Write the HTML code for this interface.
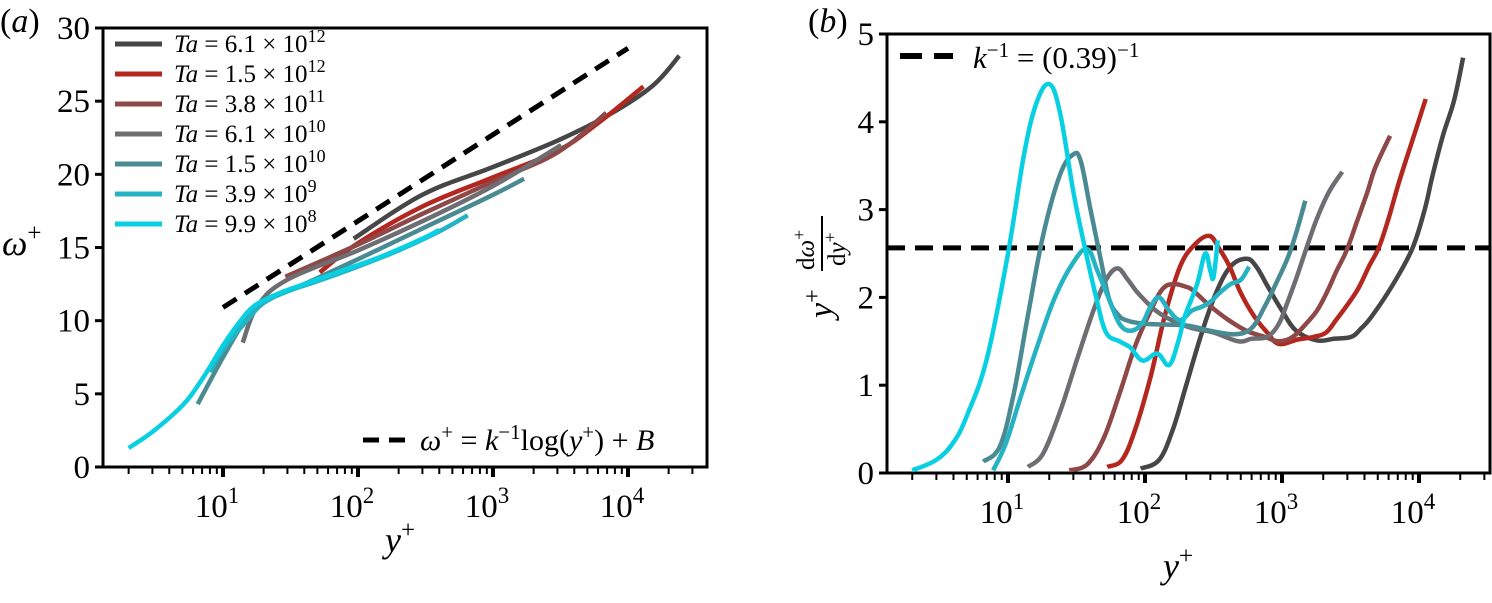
<!DOCTYPE html>
<html><head><meta charset="utf-8"><style>
html,body{margin:0;padding:0;background:#fff;}
svg{display:block;}
svg text{font-family:"Liberation Serif","Times New Roman",serif;}
</style></head><body>
<svg id="fig" width="1492" height="603" viewBox="0 0 1492 603" xmlns="http://www.w3.org/2000/svg" font-family="Liberation Serif, serif">
<g id="pa"></g>
<g id="pb"></g>
</svg>
<script>
// ---- data ----
const seriesNames = ["6.1 × 10", "1.5 × 10", "3.8 × 10", "6.1 × 10", "1.5 × 10", "3.9 × 10", "9.9 × 10"];
const seriesExps = ["12", "12", "11", "10", "10", "9", "8"];
const seriesColors = ["#464646", "#b4271f", "#8e4848", "#6e6d72", "#4a8b93", "#25b2c2", "#08d0e2"];
const aX0 = [93, 300, 1000, 3000, 7000, 15000, 24000];
const aY0 = [15.6, 18.6, 20.5, 22.3, 24, 26, 28.1];
const aX1 = [52, 100, 300, 1000, 3000, 6000, 13000];
const aY1 = [13.3, 15.3, 17.8, 19.8, 21.6, 23.5, 26];
const aX2 = [29, 100, 300, 1000, 3000, 6900];
const aY2 = [13, 15.2, 17.3, 19.5, 21.5, 24.2];
const aX3 = [14, 18, 30, 100, 300, 1000, 3200];
const aY3 = [8.5, 11, 12.8, 14.8, 16.8, 19.2, 22];
const aX4 = [6.5, 10, 15, 20, 40, 100, 300, 1000, 1700];
const aY4 = [4.3, 7.5, 10.2, 11.3, 12.5, 14.2, 16.3, 18.6, 19.7];
const aX5 = [8, 10, 15, 20, 30, 50, 100, 200, 400, 650];
const aY5 = [6.5, 8, 10, 11.2, 12, 12.7, 13.7, 14.8, 16.1, 17.2];
const aX6 = [2, 3, 5, 7, 10, 13, 17, 25, 40, 70, 150, 300, 400];
const aY6 = [1.3, 2.4, 4.2, 6, 8.3, 9.8, 11, 11.8, 12.5, 13.3, 14.4, 15.6, 16.2];
const logLawK = 0.39, logLawB = 5.0, logLawXs = [10, 10000];

const bX0 = [93,127,160,200,260,330,420,550,650,790,1000,1270,1800,2400,3200,3800,4500,6300,8900,11000,12600,15000,18000,21000];
const bY0 = [0.05,0.15,0.5,1.0,1.6,2.05,2.35,2.44,2.35,2.12,1.85,1.62,1.51,1.53,1.55,1.65,1.78,2.12,2.55,3.0,3.4,3.85,4.24,4.73];
const bX1 = [53,68,85,110,140,180,230,295,350,415,500,630,780,950,1300,1700,2100,2500,2950,3600,4300,5100,6000,7200,9000,11200];
const bY1 = [0.07,0.15,0.5,1.1,1.8,2.35,2.6,2.7,2.55,2.35,2.05,1.78,1.6,1.47,1.52,1.55,1.6,1.75,1.9,2.1,2.35,2.57,2.9,3.33,3.8,4.26];
const bX2 = [28,38,50,65,85,110,135,163,200,224,300,400,550,750,950,1200,1500,1800,2100,2500,2950,3500,4200,4800,6150];
const bY2 = [0.03,0.1,0.4,0.9,1.45,1.85,2.1,2.15,2.12,2.08,1.9,1.75,1.62,1.55,1.5,1.55,1.7,1.85,2.04,2.3,2.53,2.85,3.2,3.48,3.84];
const bX3 = [14,18,24,32,42,52,63,75,90,120,157,220,316,480,600,780,950,1100,1260,1500,1800,2200,2750];
const bY3 = [0.07,0.22,0.7,1.3,1.85,2.2,2.33,2.2,2.04,1.85,1.74,1.65,1.6,1.5,1.53,1.55,1.7,1.95,2.2,2.55,2.9,3.2,3.43];
const bX4 = [6.6,8.7,11,14,18,24,30,34,40,48,55,64,73,100,200,300,450,600,750,900,1100,1260,1480];
const bY4 = [0.13,0.3,0.9,1.8,2.7,3.4,3.63,3.55,3.0,2.4,1.97,1.8,1.74,1.7,1.68,1.62,1.58,1.65,1.9,2.15,2.45,2.72,3.1];
const bX5 = [7.8,9.6,12,16,22,30,38,45,55,65,78,95,110,127,150,180,220,257,300,350,420,500,575];
const bY5 = [0.03,0.33,0.8,1.4,2.0,2.4,2.55,2.3,1.97,1.7,1.62,1.7,1.9,2.0,1.85,1.74,1.85,1.89,1.95,2.05,2.15,2.2,2.35];
const bX6 = [2,3,4,5,7,10,13,16,20,24,30,36,44,52,65,78,96,123,150,175,195,240,275,300,316,340];
const bY6 = [0.03,0.15,0.35,0.65,1.3,2.5,3.6,4.2,4.43,4.1,3.2,2.6,2.0,1.6,1.5,1.43,1.28,1.36,1.23,1.5,1.78,2.15,2.5,2.3,2.23,2.65];
const refLevel = 1 / 0.39;

const aYTicks = [0, 5, 10, 15, 20, 25, 30];
const bYTicks = [0, 1, 2, 3, 4, 5];
const xDecades = [1, 2, 3, 4];

// ---- layout ----
const NS = "http://www.w3.org/2000/svg";
const FONT = '"Liberation Serif", "Times New Roman", serif';
const A = {l:103, r:707, t:28, b:467, ymax:30, x10:223, dec:135, xmin:1.5, xmax:40000};
const B = {l:887, r:1490, t:34, b:473, ymax:5, x10:1008, dec:137, xmin:1.5, xmax:40000};
function sx(P, v){ return P.x10 + (Math.log10(v) - 1) * P.dec; }
function sy(P, v){ return P.b - v / P.ymax * (P.b - P.t); }
function mk(tag, attrs, parent){
  const e = document.createElementNS(NS, tag);
  for (const k in attrs) e.setAttribute(k, attrs[k]);
  if (tag === "text") e.setAttribute("font-family", FONT);
  parent.appendChild(e); return e;
}
function pathFrom(P, xs, ys){
  const pts = xs.map((x,i)=>[sx(P,x), sy(P,ys[i])]);
  let d = "M"+pts[0][0].toFixed(1)+","+pts[0][1].toFixed(1);
  const t = 0.18;
  for (let i=0;i<pts.length-1;i++){
    const p0 = pts[Math.max(0,i-1)], p1 = pts[i], p2 = pts[i+1], p3 = pts[Math.min(pts.length-1,i+2)];
    const c1x = p1[0] + (p2[0]-p0[0])*t, c1y = p1[1] + (p2[1]-p0[1])*t;
    const c2x = p2[0] - (p3[0]-p1[0])*t, c2y = p2[1] - (p3[1]-p1[1])*t;
    d += "C"+c1x.toFixed(1)+","+c1y.toFixed(1)+" "+c2x.toFixed(1)+","+c2y.toFixed(1)+" "+p2[0].toFixed(1)+","+p2[1].toFixed(1);
  }
  return d;
}

function drawFrame(g, P, ticks, name){
  const frame = mk("rect", {x:P.l, y:P.t, width:P.r-P.l, height:P.b-P.t, fill:"none", stroke:"#000", "stroke-width":3}, g);
  
  
  ticks.forEach(t=>{
    const y = sy(P,t);
    const tk = mk("line", {x1:P.l-8, x2:P.l, y1:y, y2:y, stroke:"#000", "stroke-width":3}, g);
    
    
    const lb = mk("text", {x:P.l-13, y:y+11, "text-anchor":"end", "font-size":33}, g);
    lb.textContent = t;
    
    
  });
  for (let d=0; d<5; d++){
    for (let m=1; m<10; m++){
      const v = Math.pow(10,d)*m;
      if (v < P.xmin) continue;
      const x = sx(P,v);
      if (x > P.r) continue;
      const major = m===1;
      const tk = mk("line", {x1:x, x2:x, y1:P.b, y2:P.b+(major?10:7), stroke:"#000", "stroke-width":major?4:2}, g);
      
      
    }
  }
  xDecades.forEach(d=>{
    const x = sx(P, Math.pow(10,d));
    const lb = mk("text", {x:x-6, y:P.b+50, "text-anchor":"middle", "font-size":33}, g);
    lb.innerHTML = '10<tspan dy="-14" font-size="23">'+d+'</tspan>';
    
    
  });
}

const ga = document.getElementById("pa");
const gb = document.getElementById("pb");
drawFrame(ga, A, aYTicks, "panel-a");
drawFrame(gb, B, bYTicks, "panel-b");

// panel a series
const aXs = [aX0,aX1,aX2,aX3,aX4,aX5,aX6];
const aYs = [aY0,aY1,aY2,aY3,aY4,aY5,aY6];
const ll = mk("path", {d:"M"+sx(A,logLawXs[0])+","+sy(A,logLawB+Math.log(logLawXs[0])/logLawK)+"L"+sx(A,logLawXs[1])+","+sy(A,logLawB+Math.log(logLawXs[1])/logLawK), stroke:"#000", "stroke-width":5, "stroke-dasharray":"16,10", fill:"none"}, ga);


for (let i=0;i<7;i++){
  const p = mk("path", {d:pathFrom(A,aXs[i],aYs[i]), stroke:seriesColors[i], "stroke-width":4.5, fill:"none", "stroke-linejoin":"round"}, ga);
  
  
}
// legend a
for (let i=0;i<7;i++){
  const y = 44 + i*30;
  const ln = mk("line", {x1:115, x2:162, y1:y, y2:y, stroke:seriesColors[i], "stroke-width":5}, ga);
  
  
  const t = mk("text", {x:174, y:y+8, "font-size":25}, ga);
  t.innerHTML = '<tspan font-style="italic">Ta</tspan> = '+seriesNames[i]+'<tspan dy="-10" font-size="18">'+seriesExps[i]+'</tspan>';
  
  
}
const lld = mk("line", {x1:363, x2:410, y1:440, y2:440, stroke:"#000", "stroke-width":5, "stroke-dasharray":"16,10"}, ga);


const llt = mk("text", {x:420, y:450, "font-size":30}, ga);
llt.innerHTML = '<tspan font-style="italic">ω</tspan><tspan dy="-11" font-size="21">+</tspan><tspan dy="11"> = </tspan><tspan font-style="italic">k</tspan><tspan dy="-11" font-size="21">−1</tspan><tspan dy="11">log(</tspan><tspan font-style="italic">y</tspan><tspan dy="-11" font-size="21">+</tspan><tspan dy="11">) + </tspan><tspan font-style="italic">B</tspan>';



// panel b series
const bXs = [bX0,bX1,bX2,bX3,bX4,bX5,bX6];
const bYs = [bY0,bY1,bY2,bY3,bY4,bY5,bY6];
const rl = mk("line", {x1:B.l, x2:B.r, y1:sy(B,refLevel), y2:sy(B,refLevel), stroke:"#000", "stroke-width":5, "stroke-dasharray":"18,10"}, gb);


for (let i=0;i<7;i++){
  const p = mk("path", {d:pathFrom(B,bXs[i],bYs[i]), stroke:seriesColors[i], "stroke-width":4.5, fill:"none", "stroke-linejoin":"round"}, gb);
  
  
}
const bld = mk("line", {x1:900, x2:953, y1:56, y2:56, stroke:"#000", "stroke-width":6, "stroke-dasharray":"22,12"}, gb);


const blt = mk("text", {x:973, y:68, "font-size":31}, gb);
blt.innerHTML = '<tspan font-style="italic">k</tspan><tspan dy="-11" font-size="21">−1</tspan><tspan dy="11"> = (0.39)</tspan><tspan dy="-11" font-size="21">−1</tspan>';


</script>
<svg style="position:absolute;left:0;top:0" width="1492" height="603" font-family="Liberation Serif, serif">
<text x="0" y="32" font-size="34">(<tspan font-style="italic">a</tspan>)</text>
<text x="808" y="32" font-size="34">(<tspan font-style="italic">b</tspan>)</text>
<text x="2" y="255" font-size="36"><tspan font-style="italic">ω</tspan><tspan dy="-14" font-size="25">+</tspan></text>
<text x="385" y="552" font-size="36"><tspan font-style="italic">y</tspan><tspan dy="-14" font-size="25">+</tspan></text>
<text x="1163" y="578" font-size="36"><tspan font-style="italic">y</tspan><tspan dy="-14" font-size="25">+</tspan></text>
<g transform="translate(822,262) rotate(-90)">
<text x="-56" y="10" font-size="34"><tspan font-style="italic">y</tspan><tspan dy="-12" font-size="24">+</tspan></text>
<text x="-8" y="-8" font-size="25">d<tspan font-style="italic">ω</tspan><tspan dy="-9" font-size="18">+</tspan></text>
<line x1="-9" x2="46" y1="0" y2="0" stroke="#000" stroke-width="2"/>
<text x="-4" y="23" font-size="25">d<tspan font-style="italic">y</tspan><tspan dy="-9" font-size="18">+</tspan></text>
</g>
</svg>
</body></html>
